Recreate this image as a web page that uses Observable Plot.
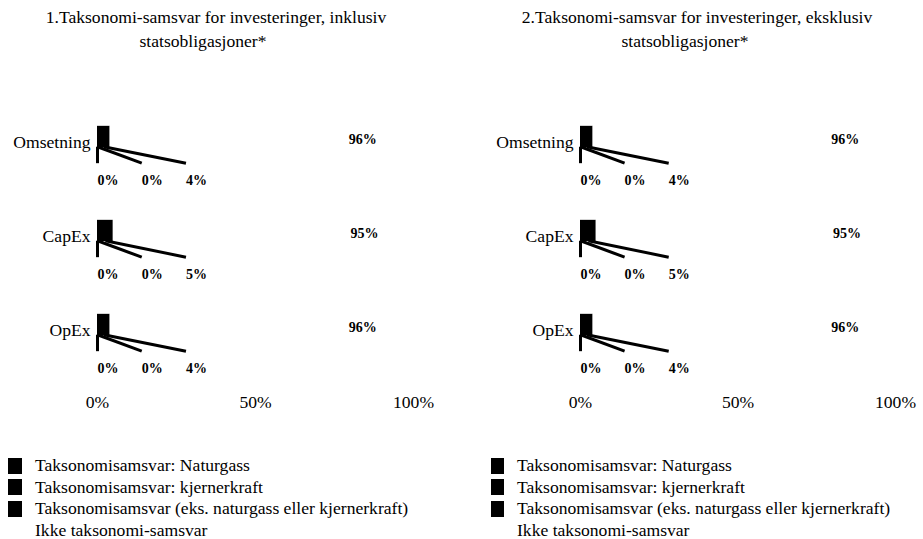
<!DOCTYPE html>
<html><head><meta charset="utf-8">
<script src="https://cdn.jsdelivr.net/npm/d3@7"></script>
<script src="https://cdn.jsdelivr.net/npm/@observablehq/plot@0.6"></script>
<style>
body{margin:0;background:#fff;font-family:"Liberation Serif","Tinos","Times New Roman","DejaVu Serif",serif;color:#000}
#root{position:relative;width:923px;height:539px;overflow:hidden}
.t{position:absolute;font-size:17.6px;white-space:nowrap;transform:translateX(-50%);line-height:1}
.panel{position:absolute;top:55px;width:461px;height:360px}
.legend{position:absolute;top:455px;font-size:17.6px}
.row{height:21.5px;display:flex;align-items:center;white-space:nowrap}
.sw{width:14px;height:16px;margin-right:13px;flex:none}
</style></head><body><div id="root"></div>
<script>
const categories = ["Omsetning", "CapEx", "OpEx"];
const series = [
  "Taksonomisamsvar: Naturgass",
  "Taksonomisamsvar: kjernerkraft",
  "Taksonomisamsvar (eks. naturgass eller kjernerkraft)",
  "Ikke taksonomi-samsvar"
];
const seriesColors = ["#000000", "#000000", "#000000", "#ffffff"];
const titleLines1 = ["1.Taksonomi-samsvar for investeringer, inklusiv", "statsobligasjoner*"];
const titleLines2 = ["2.Taksonomi-samsvar for investeringer, eksklusiv", "statsobligasjoner*"];

// Panel 1 (inklusiv statsobligasjoner)
const p1Naturgass    = [0, 0, 0];
const p1Kjernerkraft = [0, 0, 0];
const p1Eks          = [4, 5, 4];
const p1Ikke         = [96, 95, 96];
// Panel 2 (eksklusiv statsobligasjoner)
const p2Naturgass    = [0, 0, 0];
const p2Kjernerkraft = [0, 0, 0];
const p2Eks          = [4, 5, 4];
const p2Ikke         = [96, 95, 96];

const xTicks = [0, 50, 100];
const FONT = "'Liberation Serif', Tinos, 'Times New Roman', 'DejaVu Serif', serif";

const root = document.getElementById("root");

function addTitle(lines, centers) {
  const tops = [8.5, 32.5];
  lines.forEach((txt, j) => {
    const d = document.createElement("div");
    d.className = "t";
    d.style.left = centers[j] + "px";
    d.style.top = tops[j] + "px";
    d.textContent = txt;
    root.appendChild(d);
  });
}

function addLegend(left, swW) {
  const lg = document.createElement("div");
  lg.className = "legend";
  lg.style.left = left + "px";
  series.forEach((s, k) => {
    const r = document.createElement("div");
    r.className = "row";
    const sw = document.createElement("span");
    sw.className = "sw";
    sw.style.width = swW + "px";
    sw.style.background = seriesColors[k];
    const tx = document.createElement("span");
    tx.textContent = s;
    r.appendChild(sw); r.appendChild(tx);
    lg.appendChild(r);
  });
  root.appendChild(lg);
}

function panel(vals, marginLeft, marginRight) {
  const rows = [];
  categories.forEach((c, i) => {
    let acc = 0;
    series.forEach((s, k) => {
      const v = vals[k][i];
      rows.push({cat: c, i, series: s, k, v, x1: acc, x2: acc + v});
      acc += v;
    });
  });
  const small = rows.filter(d => d.k < 3);
  const big = rows.filter(d => d.k === 3);
  return Plot.plot({
    width: 461, height: 360,
    marginLeft, marginRight, marginTop: 0, marginBottom: 20,
    style: {fontFamily: FONT, fontSize: "17.6px", color: "#000", background: "transparent", overflow: "visible"},
    x: {domain: [0, 100], label: null},
    y: {domain: [0, 2], range: [87, 275], label: null},
    color: {domain: series, range: seriesColors},
    marks: [
      Plot.rect(rows, {x1: "x1", x2: "x2", y1: d => d.i - 0.172, y2: d => d.i + 0.054, fill: "series"}),
      Plot.link(small, {
        x1: d => (d.x1 + d.x2) / 2, y1: d => d.i + 0.045,
        x2: d => d.k * 14, y2: d => d.i + 0.22,
        stroke: "#000", strokeWidth: 3
      }),
      Plot.text(small, {
        x: d => d.k * 14, y: d => d.i + 0.40, text: d => d.v + "%",
        textAnchor: "start", fontWeight: "bold", fontSize: 14, fill: "#000", fontFamily: FONT
      }),
      Plot.text(big, {
        x: d => (d.x1 + d.x2) / 2, dx: 101, y: d => d.i - 0.035, text: d => d.v + "%",
        fontWeight: "bold", fontSize: 14, fill: "#000", fontFamily: FONT
      }),
      Plot.axisX({ticks: xTicks, tickFormat: d => d + "%", tickSize: 0, tickPadding: 0, fontSize: 17.6, anchor: "bottom", label: null, fontFamily: FONT}),
      Plot.axisY({ticks: [0, 1, 2], tickFormat: i => categories[i], tickSize: 0, tickPadding: 7, fontSize: 17.6, anchor: "left", label: null, fontFamily: FONT})
    ]
  });
}

addTitle(titleLines1, [216, 203]);
addTitle(titleLines2, [697, 685]);

const d1 = document.createElement("div");
d1.className = "panel"; d1.style.left = "0px";
d1.appendChild(panel([p1Naturgass, p1Kjernerkraft, p1Eks, p1Ikke], 97, 48));
root.appendChild(d1);

const d2 = document.createElement("div");
d2.className = "panel"; d2.style.left = "462px";
d2.appendChild(panel([p2Naturgass, p2Kjernerkraft, p2Eks, p2Ikke], 118, 28));
root.appendChild(d2);

addLegend(8, 14);
addLegend(491, 13);
</script></body></html>
